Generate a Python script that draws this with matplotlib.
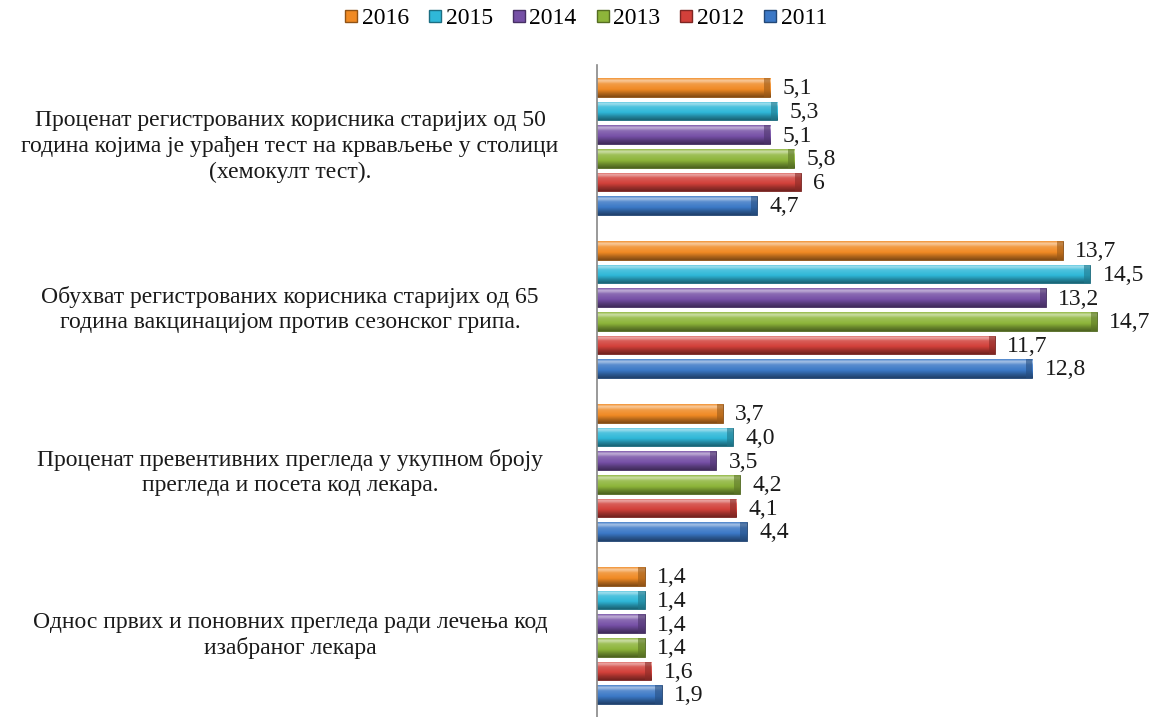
import numpy as np
import matplotlib.pyplot as plt
from matplotlib.colors import to_rgb
from matplotlib.transforms import blended_transform_factory

plt.rcParams['font.family'] = ['Liberation Serif', 'DejaVu Serif']

categories = [
    'Проценат регистрованих корисника старијих од 50\n'
    'година којима је урађен тест на крвављење у столици\n'
    '(хемокулт тест).',
    'Обухват регистрованих корисника старијих од 65\n'
    'година вакцинацијом против сезонског грипа.',
    'Проценат превентивних прегледа у укупном броју\n'
    'прегледа и посета код лекара.',
    'Однос првих и поновних прегледа ради лечења код\n'
    'изабраног лекара',
]
years = ['2016', '2015', '2014', '2013', '2012', '2011']

v2016 = [5.1, 13.7, 3.7, 1.4]
v2015 = [5.3, 14.5, 4.0, 1.4]
v2014 = [5.1, 13.2, 3.5, 1.4]
v2013 = [5.8, 14.7, 4.2, 1.4]
v2012 = [6.0, 11.7, 4.1, 1.6]
v2011 = [4.7, 12.8, 4.4, 1.9]

lab2016 = ['5,1', '13,7', '3,7', '1,4']
lab2015 = ['5,3', '14,5', '4,0', '1,4']
lab2014 = ['5,1', '13,2', '3,5', '1,4']
lab2013 = ['5,8', '14,7', '4,2', '1,4']
lab2012 = ['6', '11,7', '4,1', '1,6']
lab2011 = ['4,7', '12,8', '4,4', '1,9']

series = [v2016, v2015, v2014, v2013, v2012, v2011]
labels = [lab2016, lab2015, lab2014, lab2013, lab2012, lab2011]
colors = ['#f08a24', '#2fb8d8', '#7650a6', '#8db53a', '#d2403a', '#3b78c6']


def shade(c, f):
    c = np.array(to_rgb(c))
    if f >= 0:
        return c + (1 - c) * f
    return c * (1 + f)


def gradient(c, n=32):
    # light band near the top, darker toward the bottom edge
    t = np.linspace(0, 1, n)
    f = np.interp(t, [0, 0.12, 0.3, 0.6, 0.85, 1], [0.1, 0.55, 0.15, 0.0, -0.3, -0.45])
    return np.array([shade(c, k) for k in f])[:, None, :]


fig = plt.figure(figsize=(11.61, 7.17), dpi=100)
ax = fig.add_axes([597 / 1161, 0, 553 / 1161, 652 / 717])

step = 0.145
height = 0.115
ypos = np.arange(len(categories))

for k, (vals, labs, col) in enumerate(zip(series, labels, colors)):
    y = ypos + (k - 2.5) * step
    bars = ax.barh(y, vals, height=height, color=col, label=years[k],
                   edgecolor=shade(col, -0.45), linewidth=0.6)
    for bar, v, yy, lab in zip(bars, vals, y, labs):
        im = ax.imshow(gradient(col), extent=[0, v, yy + height / 2, yy - height / 2],
                       aspect='auto', zorder=bar.get_zorder() + 0.1, interpolation='bilinear')
        im.set_clip_path(bar)
        # darker rounded end cap
        ax.barh(yy, 0.18, left=v - 0.18, height=height, color=shade(col, -0.35),
                alpha=0.6, zorder=bar.get_zorder() + 0.2, linewidth=0)
        ax.annotate(lab, (v, yy), xytext=(9, -1), textcoords='offset points',
                    va='center', ha='left', fontsize=17, color='#1a1a1a')

ax.set_xlim(0, 553 / 34.0)
ax.set_ylim(3.5, -0.5)
ax.set_xticks([])
ax.set_yticks([])
for s in ['top', 'right', 'bottom']:
    ax.spines[s].set_visible(False)
ax.spines['left'].set_color('#888888')
ax.spines['left'].set_linewidth(1.2)

tr = blended_transform_factory(fig.transFigure, ax.transData)
for i, cat in enumerate(categories):
    ax.text(290 / 1161, ypos[i], cat, transform=tr, ha='center', va='center',
            fontsize=17, linespacing=1.29, color='#1a1a1a')

handles = [plt.Line2D([], [], marker='s', linestyle='', markersize=9,
                      markerfacecolor=c, markeredgecolor=shade(c, -0.4))
           for c in colors]
fig.legend(handles, years, loc='center', bbox_to_anchor=(585 / 1161, 1 - 18 / 717),
           ncol=6, frameon=False, fontsize=17, handletextpad=0.1,
           columnspacing=0.75, handlelength=0.7)

fig.savefig('out.png', dpi=100)
